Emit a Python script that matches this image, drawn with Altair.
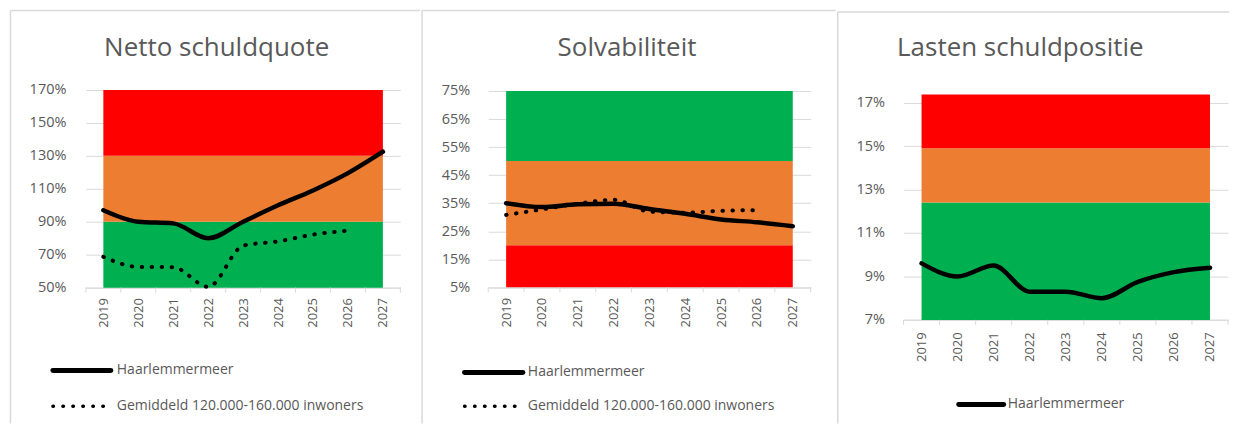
import altair as alt
import pandas as pd

# ---------------- data ----------------
years = [2019, 2020, 2021, 2022, 2023, 2024, 2025, 2026, 2027]
series_names = ["Haarlemmermeer", "Gemiddeld 120.000-160.000 inwoners"]

# Netto schuldquote (%)
nsq_haarlemmermeer = [97.0, 90.0, 89.0, 80.0, 90.0, 100.0, 109.0, 119.5, 132.5]
nsq_gemiddeld = [68.7, 62.6, 62.4, 50.5, 75.4, 78.1, 82.2, 84.6]
nsq_ticks = [50, 70, 90, 110, 130, 150, 170]
nsq_zone_low = [50, 90, 130]
nsq_zone_high = [90, 130, 170]
nsq_zone = ["groen", "oranje", "rood"]

# Solvabiliteit (%)
solv_haarlemmermeer = [35.0, 33.6, 34.6, 34.8, 32.9, 31.2, 29.2, 28.2, 26.8]
solv_gemiddeld = [30.8, 32.8, 34.8, 36.2, 32.0, 31.6, 32.3, 32.5]
solv_ticks = [5, 15, 25, 35, 45, 55, 65, 75]
solv_zone_low = [5, 20, 50]
solv_zone_high = [20, 50, 75]
solv_zone = ["rood", "oranje", "groen"]

# Lasten schuldpositie (%)
lsp_haarlemmermeer = [9.6, 9.0, 9.5, 8.3, 8.3, 8.0, 8.75, 9.2, 9.4]
lsp_ticks = [7, 9, 11, 13, 15, 17]
lsp_zone_low = [7, 12.4, 14.9]
lsp_zone_high = [12.4, 14.9, 17.38]
lsp_zone = ["groen", "oranje", "rood"]

titles = ["Netto schuldquote", "Solvabiliteit", "Lasten schuldpositie"]

# ---------------- style ----------------
GRID = "#d9d9d9"
TXT = "#595959"
FONT = "Open Sans"
ZONE_SCALE = alt.Scale(domain=["groen", "oranje", "rood"],
                       range=["#00B050", "#ED7D31", "#FF0000"])
one = pd.DataFrame({"k": [0]})


def hrule(x1, x2, y, opacity=1.0, width=1.5):
    return alt.Chart(one).mark_rule(color=GRID, strokeWidth=width, strokeOpacity=opacity).encode(
        x=alt.value(x1), x2=alt.value(x2), y=alt.value(y))


def vrule(x, y1, y2, opacity=1.0, width=1.5):
    return alt.Chart(one).mark_rule(color=GRID, strokeWidth=width, strokeOpacity=opacity).encode(
        x=alt.value(x), y=alt.value(y1), y2=alt.value(y2))


def panel(title, haar, gem, ticks, ydom, zlow, zhigh, zone, W, H, L):
    xscale = alt.Scale(domain=[years[0] - 0.5, years[-1] + 0.5], nice=False, zero=False)
    yscale = alt.Scale(domain=ydom, nice=False, zero=False)
    zones = pd.DataFrame({"x0": years[0], "x1": years[-1], "lo": zlow, "hi": zhigh, "zone": zone})

    bands = alt.Chart(zones).mark_rect().encode(
        x=alt.X("x0:Q", scale=xscale, title=None,
                axis=alt.Axis(values=years, tickCount=30, format="d", labelAngle=-90,
                              ticks=False, grid=False,
                              domainColor=GRID, domainWidth=1, labelFontSize=13,
                              labelPadding=L["xpad"], labelColor=TXT, labelFont=FONT,
                              labelOverlap=False)),
        x2="x1:Q",
        y=alt.Y("lo:Q", scale=yscale, title=None,
                axis=alt.Axis(values=ticks, tickCount=30, labelExpr="datum.value + '%'", grid=True,
                              gridColor=GRID, gridWidth=1, domain=False, ticks=False,
                              labelPadding=L["ypad"], labelFontSize=14.5, labelColor=TXT,
                              labelFont=FONT, labelOverlap=False, labelFlush=False)),
        y2="hi:Q",
        color=alt.Color("zone:N", scale=ZONE_SCALE, legend=None),
    )

    bounds = [y - 0.5 for y in years] + [years[-1] + 0.5]
    tick_layer = alt.Chart(pd.DataFrame({"b": bounds})).mark_rule(color=GRID, strokeWidth=1).encode(
        x=alt.X("b:Q", title=None), y=alt.value(H), y2=alt.value(H + 5))

    layers = [bands, tick_layer]

    if gem is not None:
        gdf = pd.DataFrame({"year": years[:len(gem)], "value": gem})
        layers.append(alt.Chart(gdf).mark_line(color="black", strokeWidth=4, strokeCap="round",
                                               strokeDash=[0.5, 9.5], interpolate="monotone").encode(
            x=alt.X("year:Q", title=None), y=alt.Y("value:Q", title=None)))

    hdf = pd.DataFrame({"year": years, "value": haar})
    layers.append(alt.Chart(hdf).mark_line(color="black", strokeWidth=4.5, strokeCap="round",
                                           interpolate="monotone").encode(
        x=alt.X("year:Q", title=None), y=alt.Y("value:Q", title=None)))

    # title
    layers.append(alt.Chart(one).mark_text(font=FONT, fontSize=26, color=TXT, align="center",
                                           baseline="alphabetic").encode(
        x=alt.value(L["tx"]), y=alt.value(L["ty"]), text=alt.value(title)))

    # legend
    lg = L["legend"]
    layers.append(alt.Chart(one).mark_rule(color="black", strokeWidth=5, strokeCap="round").encode(
        x=alt.value(lg[0]), x2=alt.value(lg[1]), y=alt.value(lg[2])))
    layers.append(alt.Chart(one).mark_text(font=FONT, fontSize=14, color=TXT, align="left",
                                           baseline="middle").encode(
        x=alt.value(lg[3]), y=alt.value(lg[2]), text=alt.value(series_names[0])))
    if gem is not None:
        layers.append(alt.Chart(one).mark_rule(color="black", strokeWidth=3.5, strokeCap="round",
                                               strokeDash=[0.5, 9.5]).encode(
            x=alt.value(lg[0]), x2=alt.value(lg[4]), y=alt.value(lg[5])))
        layers.append(alt.Chart(one).mark_text(font=FONT, fontSize=14, color=TXT, align="left",
                                               baseline="middle").encode(
            x=alt.value(lg[3]), y=alt.value(lg[5]), text=alt.value(series_names[1])))

    # panel frame
    b = L["frame"]  # left, top, right, bottom, right_visible
    layers.append(vrule(b[0], b[1], b[3]))
    layers.append(hrule(b[0], b[2], b[1]))
    if b[4]:
        layers.append(vrule(b[2], b[1], b[3]))
    else:
        layers.append(vrule(b[2], b[1], b[3], opacity=0, width=0))

    return alt.layer(*layers).properties(width=W, height=H)


p1 = panel(titles[0], nsq_haarlemmermeer, nsq_gemiddeld, nsq_ticks, [50, 170],
           nsq_zone_low, nsq_zone_high, nsq_zone, 315, 198,
           {"xpad": 10, "ypad": 20, "tx": 131, "ty": -34,
            "legend": [-33, 25, 281, 31, 21, 316.7],
            "frame": [-75.5, -79.5, 335, 334, False]})

p2 = panel(titles[1], solv_haarlemmermeer, solv_gemiddeld, solv_ticks, [5, 75.36],
           solv_zone_low, solv_zone_high, solv_zone, 323, 197.7,
           {"xpad": 10, "ypad": 18.5, "tx": 139, "ty": -34,
            "legend": [-23.7, 34.7, 283, 39.7, 30, 316.7],
            "frame": [-66.25, -79.5, 348, 334, False]})

p3 = panel(titles[2], lsp_haarlemmermeer, None, lsp_ticks, [7, 17.584],
           lsp_zone_low, lsp_zone_high, lsp_zone, 325, 230.3,
           {"xpad": 12, "ypad": 19, "tx": 117, "ty": -34,
            "legend": [55.3, 100.3, 315, 104.3],
            "frame": [-65.95, -78, 326.3, 334, False]})

chart = alt.hconcat(p1, p2, p3, spacing=0).properties(
    padding={"left": 1, "top": 0.75, "right": 0, "bottom": 0}
).configure_view(stroke=None)

chart.save("out.html", embed_options={"renderer": "svg", "actions": False})
